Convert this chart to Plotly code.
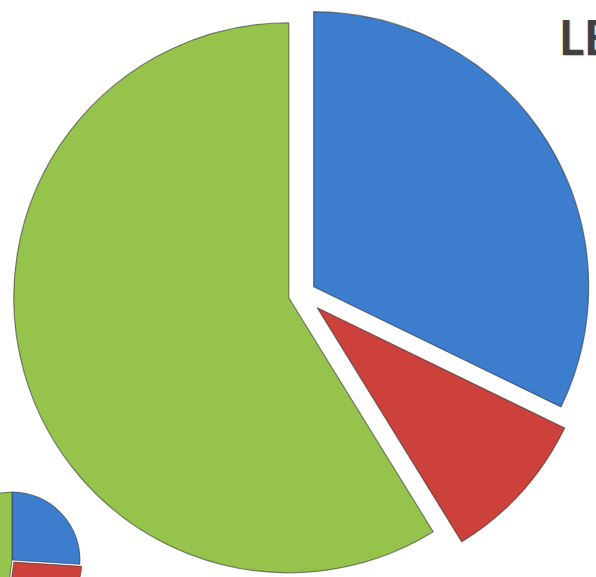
import plotly.graph_objects as go

# Data
slice_names = ["Blue", "Red", "Green"]
main_values = [32.2, 9.0, 58.8]
small_values = [26, 26, 48]
slice_colors = ["#3c7dcd", "#cd413c", "#96c34b"]
title_text = "LEGEND"

W, H = 720, 660          # figure size (page shows the 596x577 top-left window after shift)
SX, SY = 70, 10          # shift of the figure div (px) so that pies can sit at the page edge

def dom(cx, cy, half):
    return dict(x=[(cx - half) / W, (cx + half) / W],
                y=[1 - (cy + half) / H, 1 - (cy - half) / H])

fig = go.Figure()

r_main = 275
pulls = [0.05, 0.075, 0.05]
R_main = r_main * (1 + max(pulls))
fig.add_trace(go.Pie(
    labels=slice_names, values=main_values, sort=False, direction="clockwise",
    rotation=0, pull=pulls, textinfo="none", hoverinfo="none",
    marker=dict(colors=slice_colors, line=dict(color="rgba(40,40,40,0.55)", width=1.2)),
    domain=dom(302 + SX, 294 + SY, R_main), showlegend=False,
))

small_pulls = [0.0, 0.04, 0.0]
r_small = 68
fig.add_trace(go.Pie(
    labels=slice_names, values=small_values, sort=False, direction="clockwise",
    rotation=0, pull=small_pulls, textinfo="none", hoverinfo="none",
    marker=dict(colors=slice_colors, line=dict(color="rgba(40,40,40,0.55)", width=1)),
    domain=dom(12 + SX, 560 + SY, r_small * (1 + max(small_pulls))), showlegend=False,
))

fig.add_annotation(
    text="<b>" + title_text + "</b>", xref="paper", yref="paper",
    x=(557 + SX) / W, y=1 - (37 + SY) / H, xanchor="left", yanchor="middle",
    showarrow=False,
    font=dict(family="Liberation Sans Narrow, Lato, sans-serif",
              size=48, color="#404040", shadow="1px 1px 1px rgba(0,0,0,0.25)"),
)

fig.update_layout(
    width=W, height=H, margin=dict(l=0, r=0, t=0, b=0),
    paper_bgcolor="white", plot_bgcolor="white",
)

post = ("document.documentElement.style.overflow='hidden';"
        "document.body.style.margin='0';document.body.style.overflow='hidden';"
        "var d=document.getElementById('{plot_id}');"
        "d.style.position='absolute';d.style.left='-%dpx';d.style.top='-%dpx';" % (SX, SY))

fig.write_html("out.html", post_script=post)
